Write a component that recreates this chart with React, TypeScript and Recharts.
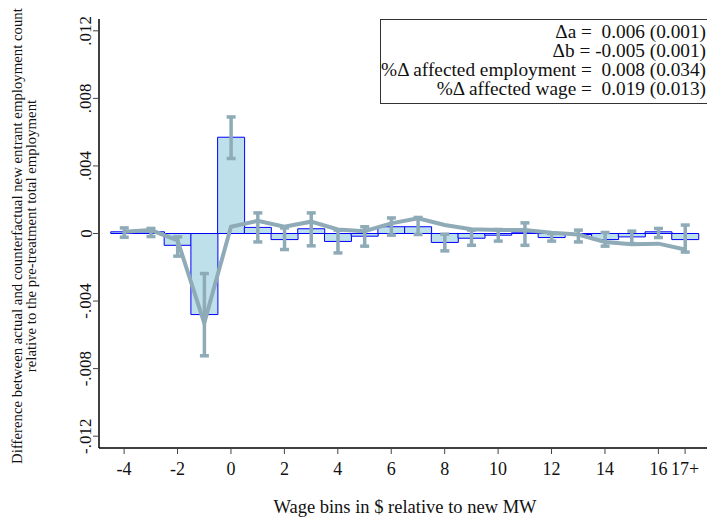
import { ComposedChart, Bar, Line, XAxis, YAxis, ErrorBar } from 'recharts'

// wage bins relative to the new minimum wage
const bins = [-4, -3, -2, -1, 0, 1, 2, 3, 4, 5, 6, 7, 8, 9, 10, 11, 12, 13, 14, 15, 16, 17]

// bar estimates and their confidence intervals
const barValues = [
  0.0001, 0.0001, -0.0007, -0.0048, 0.0057, 0.00036, -0.00036, 0.00028, -0.00047, -0.00016, 0.0004,
  0.0004, -0.00053, -0.00028, -0.0001, 0.00004, -0.00024, -0.00006, -0.00036, -0.0002, 0.0001, -0.00036
]
const ciHigh = [
  0.00033, 0.0003, -0.0002, -0.00237, 0.0069, 0.00122, 0.00033, 0.00122, 0.0002, 0.0004, 0.00092,
  0.00095, -0.00004, 0.0002, 0.00024, 0.00063, 0, 0.0002, 0.00006, 0.00014, 0.0003, 0.0005
]
const ciLow = [
  -0.00022, -0.00018, -0.00134, -0.00724, 0.00444, -0.0005, -0.00095, -0.00073, -0.00115, -0.00075, -0.0001,
  -0.00006, -0.00103, -0.0007, -0.00045, -0.0007, -0.00045, -0.0005, -0.00075, -0.0006, -0.00024, -0.0011
]

// gray line series
const lineValues = [
  0.0001, 0.0002, -0.0004, -0.0053, 0.0004, 0.00075, 0.0004, 0.0007, 0.00024, 0.00014, 0.0006,
  0.0009, 0.0005, 0.00025, 0.0002, 0.0002, 0.00004, -0.00006, -0.0005, -0.00063, -0.0006, -0.00095
]

const xTicks = [-4, -2, 0, 2, 4, 6, 8, 10, 12, 14, 16, 17]
const yTicks = [-0.012, -0.008, -0.004, 0, 0.004, 0.008, 0.012]

const statLines = [
  '\u0394a =  0.006 (0.001)',
  '\u0394b = -0.005 (0.001)',
  '%\u0394 affected employment =  0.008 (0.034)',
  '%\u0394 affected wage =  0.019 (0.013)'
]

const FONT = '"Liberation Serif", "Times New Roman", serif'
const BAR_FILL = '#bee0ea'
const LINE_COLOR = '#8eabb7'
const X_DOMAIN = [-4.94, 17.82]

const chartData = bins.map((bin, i) => ({
  bin,
  bar: barValues[i],
  err: [barValues[i] - ciLow[i], ciHigh[i] - barValues[i]],
  line: lineValues[i]
}))

const formatY = (v: number) => {
  if (Math.abs(v) < 1e-9) return '0'
  return v.toFixed(3).replace('0.', '.')
}

const YTick = (props: any) => {
  const { x, y, payload } = props
  const cx = x - 5
  return (
    <text
      x={cx}
      y={y}
      transform={`rotate(-90 ${cx} ${y})`}
      textAnchor="middle"
      dominantBaseline="central"
      fontSize={17}
      fontFamily={FONT}
      fill="#111"
    >
      {formatY(payload.value)}
    </text>
  )
}

const XTick = (props: any) => {
  const { x, y, payload } = props
  return (
    <text x={x} y={y} dy="0.71em" textAnchor="middle" fontSize={18} fontFamily={FONT} fill="#111">
      {payload.value === 17 ? '17+' : payload.value}
    </text>
  )
}

export default function App() {
  return (
    <div
      style={{
        position: 'absolute',
        left: 0,
        top: 0,
        width: 707,
        height: 518,
        overflow: 'hidden',
        background: 'white',
        fontFamily: FONT
      }}
    >
      <ComposedChart
        width={707}
        height={518}
        data={chartData}
        margin={{ top: 19, right: 0, bottom: 0, left: 0 }}
        barCategoryGap={0}
        barGap={0}
      >
        <XAxis
          dataKey="bin"
          type="number"
          domain={X_DOMAIN}
          ticks={xTicks}
          interval={0}
          height={70}
          axisLine={{ stroke: '#000', strokeWidth: 1.5 }}
          tickLine={{ stroke: '#444' }}
          tickSize={6}
          tickMargin={8}
          tick={<XTick />}
          allowDataOverflow
        />
        {/* top edge of the plot frame */}
        <XAxis
          xAxisId="top"
          orientation="top"
          dataKey="bin"
          type="number"
          domain={X_DOMAIN}
          height={0}
          tick={false}
          tickLine={false}
          axisLine={{ stroke: '#000', strokeWidth: 1.5 }}
          allowDataOverflow
        />
        <YAxis
          type="number"
          domain={[-0.0127, 0.0127]}
          ticks={yTicks}
          interval={0}
          width={99}
          axisLine={{ stroke: '#000', strokeWidth: 1.5 }}
          tickLine={{ stroke: '#444' }}
          tickSize={6}
          tickMargin={2}
          tick={<YTick />}
          allowDataOverflow
        />
        <Bar dataKey="bar" fill={BAR_FILL} stroke="#0000ff" strokeWidth={1} isAnimationActive={false}>
          <ErrorBar dataKey="err" width={4.5} strokeWidth={3.5} stroke={LINE_COLOR} direction="y" />
        </Bar>
        <Line
          dataKey="line"
          type="linear"
          stroke={LINE_COLOR}
          strokeWidth={4}
          dot={false}
          activeDot={false}
          isAnimationActive={false}
        />
      </ComposedChart>

      <div
        style={{
          position: 'absolute',
          left: 24,
          top: 236,
          transform: 'translate(-50%, -50%) rotate(-90deg)',
          fontSize: 14.8,
          lineHeight: '14px',
          textAlign: 'center',
          whiteSpace: 'nowrap',
          color: '#111'
        }}
      >
        Difference between actual and counterfactual new entrant employment count
        <br />
        relative to the pre-treatment total employment
      </div>

      <div
        style={{
          position: 'absolute',
          left: 405,
          top: 497,
          transform: 'translateX(-50%)',
          fontSize: 18.5,
          whiteSpace: 'nowrap',
          color: '#111'
        }}
      >
        Wage bins in $ relative to new MW
      </div>

      <div
        style={{
          position: 'absolute',
          left: 380,
          top: 19,
          width: 340,
          height: 85,
          boxSizing: 'border-box',
          border: '1px solid #333',
          background: 'white'
        }}
      >
        <div
          style={{
            position: 'absolute',
            right: 13,
            top: 2,
            textAlign: 'right',
            fontSize: 19.3,
            lineHeight: '19px',
            whiteSpace: 'pre',
            color: '#111'
          }}
        >
          {statLines.map(s => (
            <div key={s}>{s}</div>
          ))}
        </div>
      </div>
    </div>
  )
}
